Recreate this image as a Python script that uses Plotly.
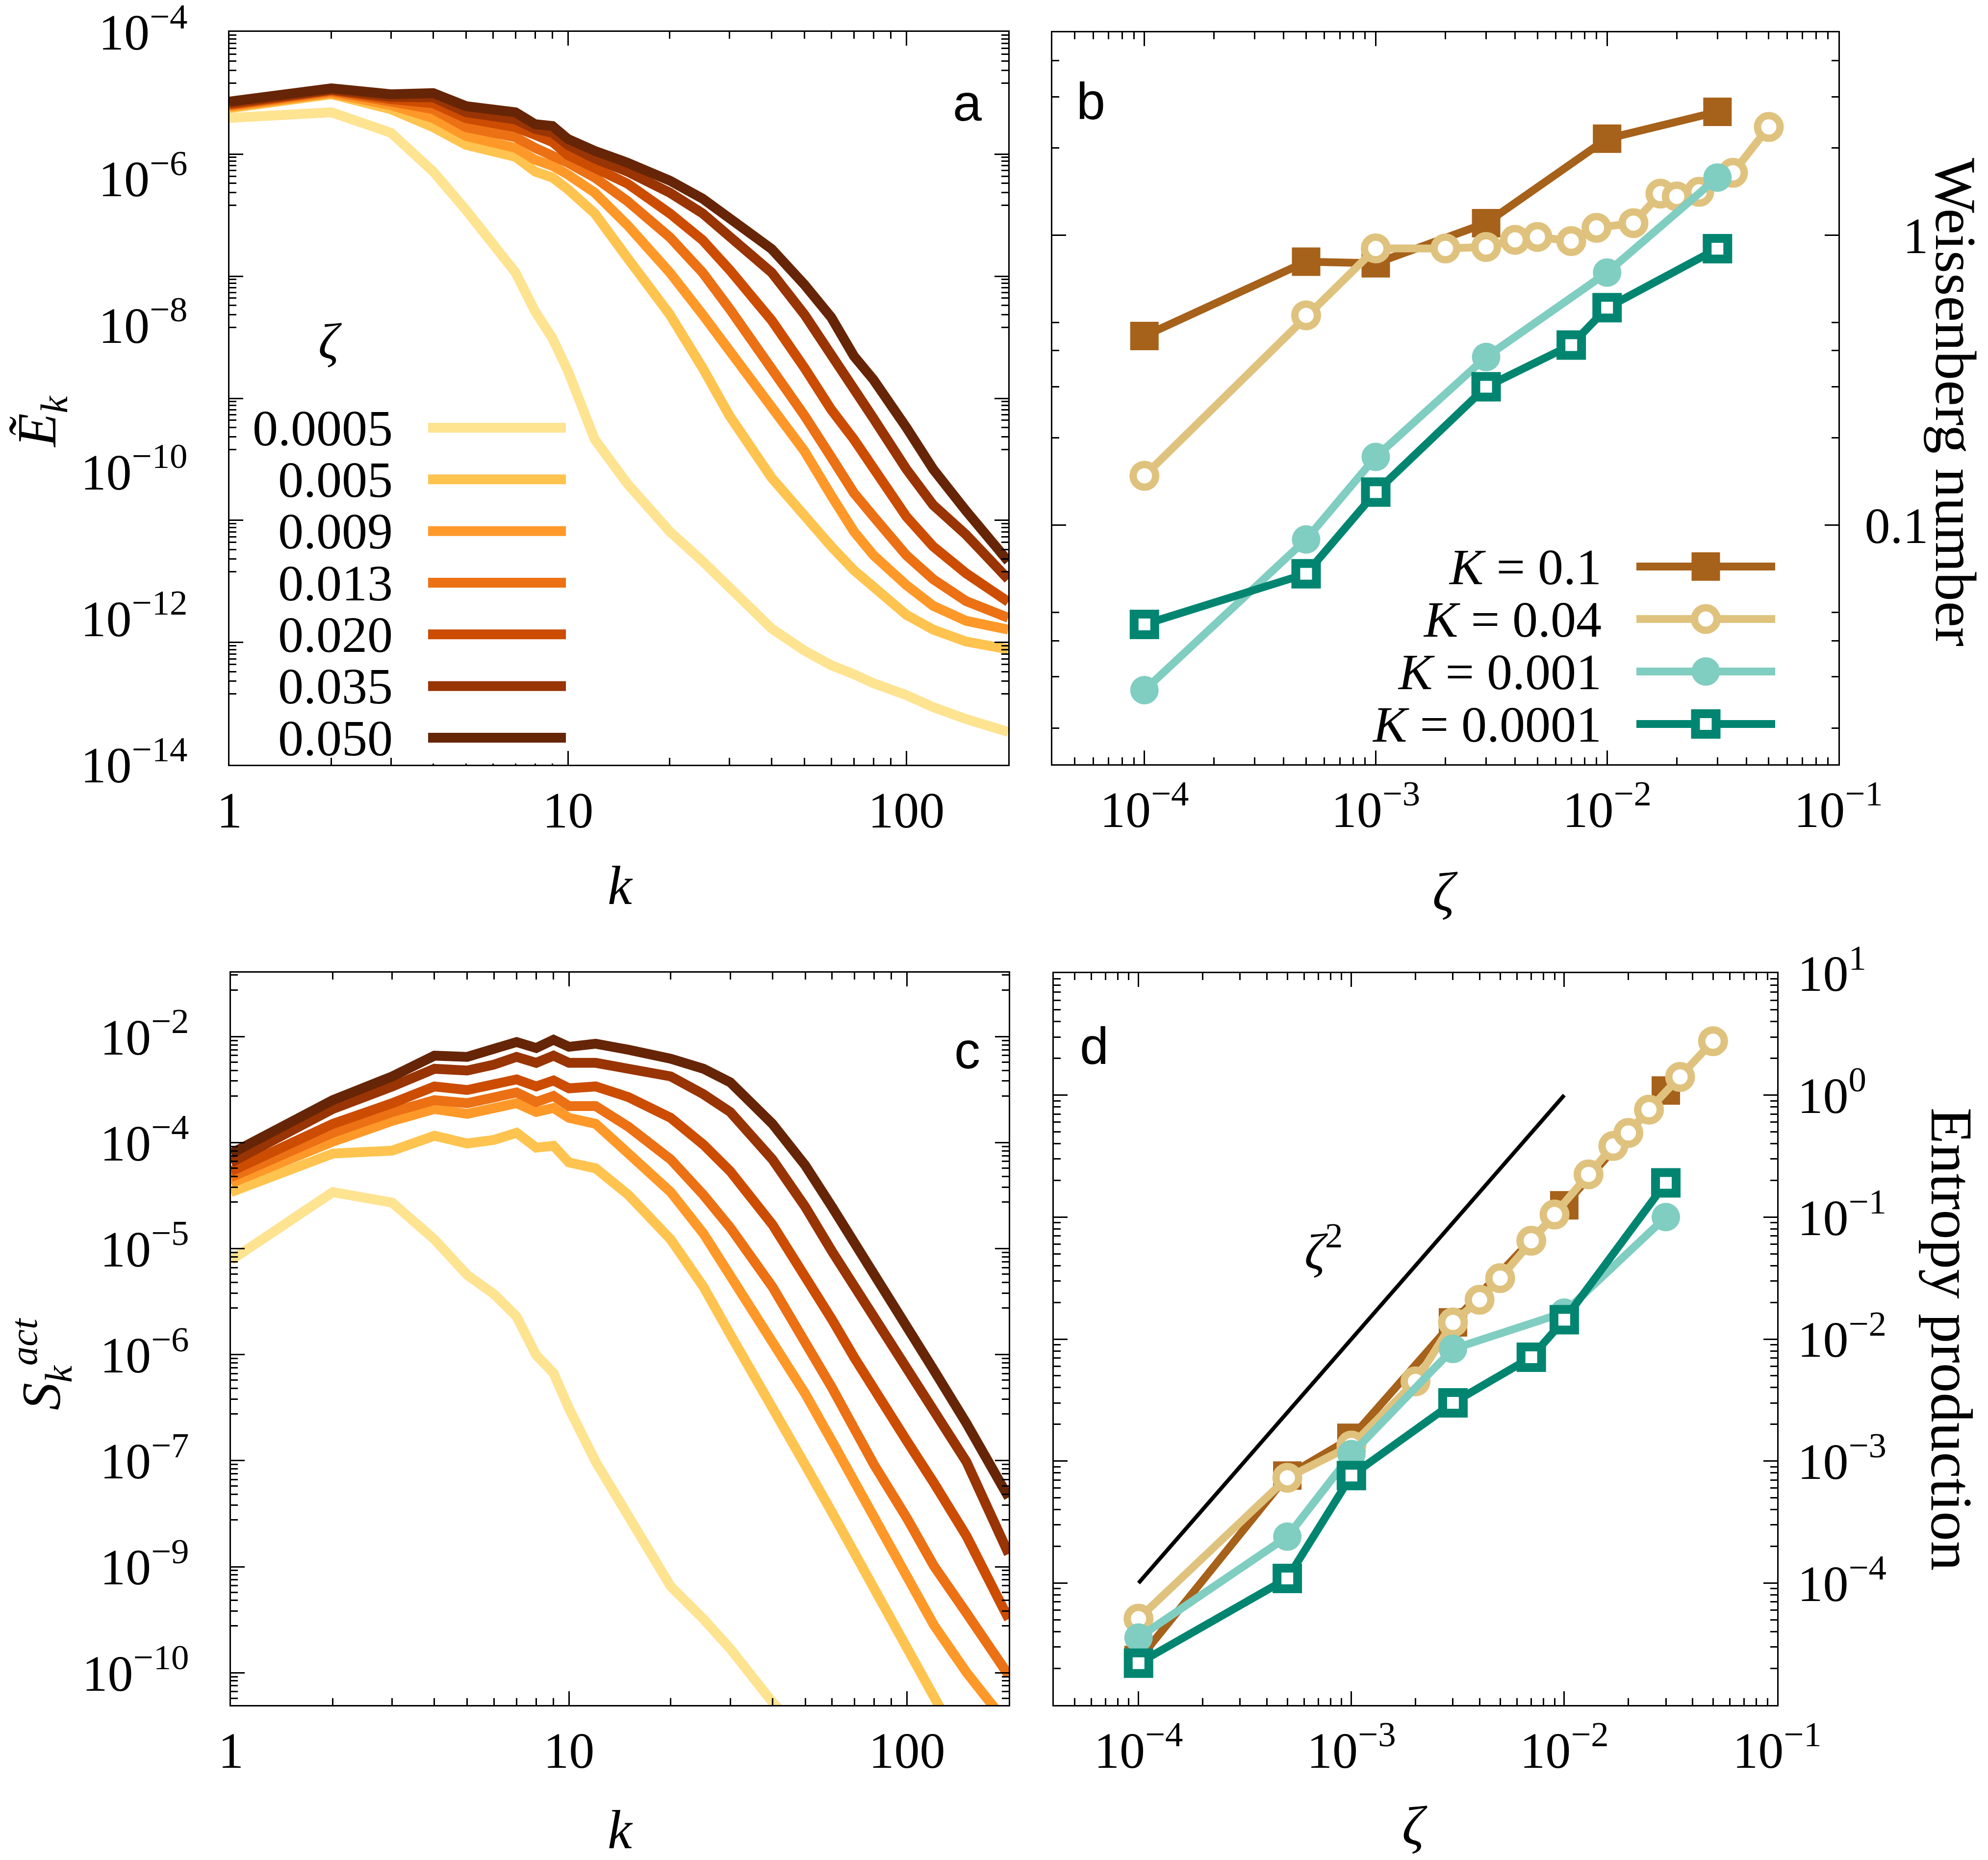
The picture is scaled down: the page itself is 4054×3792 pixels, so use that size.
import math
import plotly.graph_objects as go

# ---------------------------------------------------------------- data
K_MODES = [1, 2, 3, 4, 5, 6, 7, 8, 9, 10, 12, 15, 20, 25, 30, 40, 50, 60, 70, 80, 100, 120, 150, 200]
ZETA_LABELS = ["0.0005", "0.005", "0.009", "0.013", "0.020", "0.035", "0.050"]

# panel a : energy spectra E_k
E_0005 = [6.7e-6, 8.0e-6, 4.2e-6, 1.24e-6, 3.7e-7, 1.31e-7, 5.2e-8, 1.53e-8, 6.6e-9, 2.36e-9, 2.75e-10, 6.8e-11,
          1.52e-11, 5.97e-12, 2.58e-12, 7.2e-13, 3.6e-13, 2.27e-13, 1.71e-13, 1.29e-13, 8.9e-14, 6.1e-14, 4.2e-14, 2.8e-14]
E_005 = [9.1e-6, 1.41e-5, 8.8e-6, 5.0e-6, 2.87e-6, 2.38e-6, 1.97e-6, 1.24e-6, 1.03e-6, 7.1e-7, 3.34e-7, 8.2e-8,
         1.39e-8, 2.6e-9, 5.8e-10, 8.2e-11, 2.43e-11, 9.5e-12, 4.5e-12, 2.58e-12, 1.11e-12, 6.97e-13, 4.8e-13, 3.76e-13]
E_009 = [9.5e-6, 1.46e-5, 1.0e-5, 6.65e-6, 3.8e-6, 3.15e-6, 2.61e-6, 1.80e-6, 1.49e-6, 1.13e-6, 6.4e-7, 2.3e-7,
         5.2e-8, 1.39e-8, 4.5e-9, 7.7e-10, 1.9e-10, 4.7e-11, 1.52e-11, 7.2e-12, 2.82e-12, 1.47e-12, 9.2e-13, 6.97e-13]
E_013 = [9.9e-6, 1.54e-5, 1.12e-5, 8.8e-6, 5.0e-6, 4.2e-6, 3.66e-6, 2.61e-6, 2.09e-6, 1.64e-6, 1.03e-6, 4.9e-7,
         1.58e-7, 5.2e-8, 1.68e-8, 2.6e-9, 5.8e-10, 1.57e-10, 5.1e-11, 2.43e-11, 7.2e-12, 3.4e-12, 1.71e-12, 1.01e-12]
E_020 = [1.02e-5, 1.60e-5, 1.21e-5, 1.06e-5, 6.65e-6, 5.8e-6, 5.0e-6, 3.94e-6, 3.15e-6, 2.09e-6, 1.36e-6, 8.5e-7,
         3.34e-7, 1.44e-7, 5.7e-8, 1.16e-8, 2.6e-9, 7.0e-10, 2.75e-10, 1.08e-10, 2.43e-11, 9.5e-12, 4.1e-12, 1.67e-12]
E_035 = [1.06e-5, 1.63e-5, 1.30e-5, 1.28e-5, 8.0e-6, 7.0e-6, 6.4e-6, 4.75e-6, 4.2e-6, 2.87e-6, 1.87e-6, 1.24e-6,
         6.4e-7, 3.34e-7, 1.58e-7, 5.2e-8, 1.39e-8, 4.1e-9, 1.48e-9, 5.3e-10, 1.08e-10, 3.5e-11, 1.38e-11, 3.4e-12]
E_050 = [1.12e-5, 1.70e-5, 1.41e-5, 1.46e-5, 9.7e-6, 8.65e-6, 8.0e-6, 5.5e-6, 5.2e-6, 3.46e-6, 2.38e-6, 1.64e-6,
         9.35e-7, 5.3e-7, 2.88e-7, 1.09e-7, 3.55e-8, 1.27e-8, 3.77e-9, 1.79e-9, 4.0e-10, 1.08e-10, 2.92e-11, 5.97e-12]
E_SPECTRA = [E_0005, E_005, E_009, E_013, E_020, E_035, E_050]

# panel c : active entropy-production spectra S_k^act
S_0005 = [2.91e-5, 1.85e-4, 1.39e-4, 5.11e-5, 1.95e-5, 1.16e-5, 6.30e-6, 2.21e-6, 1.36e-6, 5.19e-7, 1.22e-7, 2.86e-8,
          4.14e-9, 1.71e-9, 7.64e-10, 1.79e-10, 6.8e-11]
S_005 = [1.85e-4, 5.27e-4, 5.71e-4, 8.55e-4, 6.93e-4, 7.64e-4, 9.27e-4, 6.19e-4, 6.50e-4, 4.14e-4, 3.53e-4, 1.71e-4,
         5.11e-5, 1.41e-5, 3.89e-6, 5.62e-7, 1.12e-7, 3.10e-8, 1.00e-8, 3.83e-9, 7.64e-10, 1.95e-10, 4.2e-11]
S_009 = [2.36e-4, 7.28e-4, 1.28e-3, 1.77e-3, 1.55e-3, 1.77e-3, 2.07e-3, 1.63e-3, 1.82e-3, 1.39e-3, 1.18e-3, 5.27e-4,
         1.85e-4, 6.00e-5, 1.95e-5, 3.31e-6, 7.76e-7, 2.14e-7, 6.93e-8, 2.64e-8, 5.27e-9, 1.46e-9, 4.01e-10, 9.42e-11]
S_013 = [2.77e-4, 9.27e-4, 1.63e-3, 2.25e-3, 2.07e-3, 2.36e-3, 2.77e-3, 2.14e-3, 2.52e-3, 1.91e-3, 1.91e-3, 1.09e-3,
         4.49e-4, 1.71e-4, 7.05e-5, 1.41e-5, 3.31e-6, 9.12e-7, 2.96e-7, 1.12e-7, 2.64e-8, 7.28e-9, 2.01e-9, 3.71e-10]
S_020 = [3.26e-4, 1.18e-3, 2.07e-3, 3.26e-3, 2.96e-3, 3.37e-3, 3.95e-3, 3.26e-3, 3.83e-3, 3.10e-3, 3.26e-3, 2.44e-3,
         1.39e-3, 6.71e-4, 3.26e-4, 7.64e-5, 1.95e-5, 5.81e-6, 2.04e-6, 8.41e-7, 2.14e-7, 6.93e-8, 1.63e-8, 1.71e-9]
S_035 = [4.14e-4, 1.77e-3, 3.26e-3, 5.27e-3, 5.02e-3, 5.90e-3, 7.28e-3, 6.19e-3, 7.52e-3, 6.19e-3, 6.19e-3, 5.27e-3,
         4.28e-3, 2.64e-3, 1.63e-3, 4.49e-4, 1.24e-4, 3.71e-5, 1.41e-5, 6.30e-6, 1.60e-6, 4.79e-7, 1.22e-7, 1.00e-8]
S_050 = [5.27e-4, 2.25e-3, 4.28e-3, 7.52e-3, 7.28e-3, 8.83e-3, 1.09e-2, 9.27e-3, 1.16e-2, 9.57e-3, 1.04e-2, 8.83e-3,
         6.93e-3, 5.27e-3, 3.65e-3, 1.18e-3, 3.83e-4, 1.24e-4, 4.71e-5, 1.95e-5, 4.94e-6, 1.48e-6, 3.47e-7, 4.64e-8]
S_SPECTRA = [S_0005, S_005, S_009, S_013, S_020, S_035, S_050]

# panels b, d : Weissenberg number and entropy production vs zeta
K_LABELS = ["0.1", "0.04", "0.001", "0.0001"]
ZETA_K01 = [1e-4, 5e-4, 1e-3, 3e-3, 1e-2, 3e-2]
ZETA_K004 = [1e-4, 5e-4, 1e-3, 2e-3, 3e-3, 4e-3, 5e-3, 7e-3, 9e-3, 0.013, 0.017, 0.020, 0.025, 0.035, 0.050]
ZETA_K0001 = [1e-4, 5e-4, 1e-3, 3e-3, 1e-2, 3e-2]
ZETA_K00001 = [1e-4, 5e-4, 1e-3, 3e-3, 7e-3, 1e-2, 3e-2]

WI_K01 = [0.449, 0.81, 0.80, 1.10, 2.15, 2.66]
WI_K004 = [0.148, 0.529, 0.90, 0.90, 0.91, 0.963, 0.986, 0.954, 1.06, 1.10, 1.39, 1.36, 1.41, 1.64, 2.36]
WI_K0001 = [0.027, 0.0893, 0.172, 0.38, 0.743, 1.58]
WI_K00001 = [0.0455, 0.068, 0.13, 0.30, 0.418, 0.562, 0.898]

EP_K01 = [2.34e-5, 7.6e-4, 1.55e-3, 1.37e-2, 0.125, 1.09]
EP_K004 = [5.1e-5, 7.3e-4, 1.34e-3, 4.5e-3, 1.37e-2, 0.021, 0.0316, 0.064, 0.105, 0.224, 0.383, 0.49, 0.76, 1.41, 2.77]
EP_K0001 = [3.57e-5, 2.4e-4, 1.14e-3, 8.3e-3, 0.0165, 0.100]
EP_K00001 = [2.2e-5, 1.09e-4, 7.6e-4, 3.0e-3, 7.1e-3, 0.0144, 0.191]

ZETA_REF = [1e-4, 1e-2]          # zeta^2 guide line
EP_REF = [1e-4, 1.0]

# tick labels
A_Y_TICKVALS = [1e-4, 1e-6, 1e-8, 1e-10, 1e-12, 1e-14]
A_Y_TICKTEXT = ["10<sup>−4</sup>", "10<sup>−6</sup>", "10<sup>−8</sup>", "10<sup>−10</sup>", "10<sup>−12</sup>", "10<sup>−14</sup>"]
C_Y_TICKTEXT = ["10<sup>−2</sup>", "10<sup>−4</sup>", "10<sup>−5</sup>", "10<sup>−6</sup>", "10<sup>−7</sup>", "10<sup>−9</sup>", "10<sup>−10</sup>"]
K_TICKVALS = [1, 10, 100]
K_TICKTEXT = ["1", "10", "100"]
Z_TICKVALS = [1e-4, 1e-3, 1e-2, 1e-1]
Z_TICKTEXT = ["10<sup>−4</sup>", "10<sup>−3</sup>", "10<sup>−2</sup>", "10<sup>−1</sup>"]
WI_TICKVALS = [0.1, 1]
WI_TICKTEXT = ["0.1", "\u2007\u20081"]
EP_TICKVALS = [1e-4, 1e-3, 1e-2, 1e-1, 1, 10]
EP_TICKTEXT = ["10<sup>−4</sup>", "10<sup>−3</sup>", "10<sup>−2</sup>", "10<sup>−1</sup>", "10<sup>0</sup>", "10<sup>1</sup>"]

# ---------------------------------------------------------------- style
SPEC_COLORS = ["#fee391", "#fec44f", "#fe9929", "#ec7014", "#cc4c02", "#993404", "#662506"]
K_COLORS = ["#a6611a", "#dfc27d", "#80cdc1", "#018571"]
SERIF = "Liberation Serif"
SANS = "Liberation Sans"
LW = 2.5
TICKFONT = 104

W, H = 4054, 3792


def fx(px):
    return px / W


def fy(py):
    return 1 - py / H


A_BOX = (468, 2056, 65, 1559)    # left, right, top, bottom (pixels)
B_BOX = (2146, 3749, 66, 1558)
C_BOX = (471, 2057, 1983, 3476)
D_BOX = (2149, 3624, 1984, 3476)


def xdom(b):
    return [fx(b[0]), fx(b[1])]


def ydom(b):
    return [fy(b[3]), fy(b[2])]


def axis(**kw):
    d = dict(type="log", showline=True, linecolor="black", linewidth=LW, mirror="ticks",
             ticks="inside", ticklen=28, tickwidth=LW, tickcolor="black", automargin=False,
             showgrid=False, zeroline=False, tickmode="array", ticklabeloverflow="allow",
             tickfont=dict(family=SERIF, size=TICKFONT, color="black"))
    d.update(kw)
    return d


def minor(vals):
    return dict(tickmode="array", tickvals=vals, ticks="inside", ticklen=14,
                tickwidth=LW, tickcolor="black", showgrid=False)


def decade_minor(e0, e1, mults, lo, hi):
    out = []
    for e in range(e0, e1):
        for m in mults:
            v = m * 10.0 ** e
            if lo < v < hi:
                out.append(v)
    return out


def shifted_minor(major_logs, lo_log, hi_log):
    out = []
    for L in major_logs:
        for j in range(2, 10):
            v = L - 1 + math.log10(j)
            if lo_log < v < hi_log:
                out.append(10 ** v)
    return out


K_RANGE = [0, math.log10(200)]
Z_RANGE = [math.log10(4e-5), -1]
K_MINOR = decade_minor(0, 3, range(2, 10), 1, 200)
Z_MINOR = decade_minor(-5, -1, range(2, 10), 4e-5, 0.1)
WI_MINOR = decade_minor(-2, 1, [2, 3, 4, 5], 0.015, 5)
EP_MINOR = decade_minor(-5, 1, range(2, 10), 1e-5, 10)

A_RANGE = [-14.0004, -3.9996]
A_MARK_LOGS = [-4 - i * 10 / 6 for i in range(7)]
C_RANGE = [-9.781, -1.145]
C_MAJOR_LOGS = [-1.9 - 1.25 * i for i in range(7)]

# ---------------------------------------------------------------- traces
fig = go.Figure()

for lab, col, vals in zip(ZETA_LABELS, SPEC_COLORS, E_SPECTRA):
    fig.add_trace(go.Scatter(x=K_MODES[:len(vals)], y=vals, mode="lines", name="ζ = " + lab,
                             line=dict(color=col, width=20), xaxis="x", yaxis="y"))
# carrier for the tick-mark axis of panel a
fig.add_trace(go.Scatter(x=K_MODES[:1], y=E_050[:1], mode="markers", marker=dict(size=1, opacity=0),
                         xaxis="x", yaxis="y5", hoverinfo="skip", showlegend=False))

for lab, col, vals in zip(ZETA_LABELS, SPEC_COLORS, S_SPECTRA):
    fig.add_trace(go.Scatter(x=K_MODES[:len(vals)], y=vals, mode="lines", name="ζ = " + lab,
                             line=dict(color=col, width=20), xaxis="x3", yaxis="y3"))

MARKERS = [
    dict(symbol="square", size=58, color=K_COLORS[0], line=dict(width=0)),
    dict(symbol="circle", size=46, color="white", line=dict(color=K_COLORS[1], width=15)),
    dict(symbol="circle", size=58, color=K_COLORS[2], line=dict(width=0)),
    dict(symbol="square", size=42, color="white", line=dict(color=K_COLORS[3], width=18)),
]
B_SERIES = [(ZETA_K01, WI_K01), (ZETA_K004, WI_K004), (ZETA_K0001, WI_K0001), (ZETA_K00001, WI_K00001)]
D_SERIES = [(ZETA_K01, EP_K01), (ZETA_K004, EP_K004), (ZETA_K0001, EP_K0001), (ZETA_K00001, EP_K00001)]

for lab, col, mk, (zx, wy) in zip(K_LABELS, K_COLORS, MARKERS, B_SERIES):
    fig.add_trace(go.Scatter(x=zx, y=wy, mode="lines+markers", name="K = " + lab,
                             line=dict(color=col, width=16), marker=mk, xaxis="x2", yaxis="y2"))

fig.add_trace(go.Scatter(x=ZETA_REF, y=EP_REF, mode="lines", name="ζ²",
                         line=dict(color="black", width=8), xaxis="x4", yaxis="y4"))
for lab, col, mk, (zx, ey) in zip(K_LABELS, K_COLORS, MARKERS, D_SERIES):
    fig.add_trace(go.Scatter(x=zx, y=ey, mode="lines+markers", name="K = " + lab,
                             line=dict(color=col, width=16), marker=mk, xaxis="x4", yaxis="y4"))

# legend keys (drawn in small helper axes, one row per series)
LEGEND_KEY_X = [0, 1]
LEGEND_KEY_MID = [0.5]
for i, col in enumerate(SPEC_COLORS):
    fig.add_trace(go.Scatter(x=LEGEND_KEY_X, y=[i, i], mode="lines", line=dict(color=col, width=20),
                             xaxis="x6", yaxis="y6", hoverinfo="skip", showlegend=False))
for i, (col, mk) in enumerate(zip(K_COLORS, MARKERS)):
    fig.add_trace(go.Scatter(x=LEGEND_KEY_X, y=[i, i], mode="lines", line=dict(color=col, width=16),
                             xaxis="x7", yaxis="y7", hoverinfo="skip", showlegend=False))
    fig.add_trace(go.Scatter(x=LEGEND_KEY_MID, y=[i], mode="markers", marker=mk, cliponaxis=False,
                             xaxis="x7", yaxis="y7", hoverinfo="skip", showlegend=False))

# ---------------------------------------------------------------- axes
LEG_A = (873, 1154, 872, 1504)   # key x0, x1, first row y, last row y
LEG_B = (3337, 3620, 1155, 1476)


def legend_domains(box, n):
    step = (box[3] - box[2]) / (n - 1)
    return [fx(box[0]), fx(box[1])], [fy(box[3] + step / 2), fy(box[2] - step / 2)]


la_x, la_y = legend_domains(LEG_A, 7)
lb_x, lb_y = legend_domains(LEG_B, 4)

HIDDEN = dict(visible=False, automargin=False, showgrid=False, zeroline=False)

fig.update_layout(
    template="none",
    width=W, height=H, margin=dict(l=0, r=0, t=0, b=0, pad=0, autoexpand=False),
    paper_bgcolor="white", plot_bgcolor="white", showlegend=False, hovermode=False,
    font=dict(family=SERIF, size=104, color="black"),
    xaxis=axis(domain=xdom(A_BOX), anchor="y", range=K_RANGE, tickvals=K_TICKVALS, ticktext=K_TICKTEXT,
               minor=minor(K_MINOR), ticklabelstandoff=0),
    yaxis=axis(domain=ydom(A_BOX), anchor="x", range=A_RANGE, tickvals=A_Y_TICKVALS, ticktext=A_Y_TICKTEXT,
               ticks="", mirror=True, ticklabelstandoff=62),
    yaxis5=dict(type="log", overlaying="y", anchor="x", side="left", range=A_RANGE, tickmode="array",
                tickvals=[10 ** L for L in A_MARK_LOGS], showticklabels=False, showline=False,
                automargin=False, showgrid=False, zeroline=False, ticks="inside", ticklen=28, tickwidth=LW,
                tickcolor="black", mirror="ticks",
                minor=minor(shifted_minor(A_MARK_LOGS, A_RANGE[0], A_RANGE[1]))),
    xaxis2=axis(domain=xdom(B_BOX), anchor="y2", range=Z_RANGE, tickvals=Z_TICKVALS, ticktext=Z_TICKTEXT,
                minor=minor(Z_MINOR), ticklabelstandoff=0),
    yaxis2=axis(domain=ydom(B_BOX), anchor="x2", side="right", range=[math.log10(0.015), math.log10(5)],
                tickvals=WI_TICKVALS, ticktext=WI_TICKTEXT, minor=minor(WI_MINOR), ticklabelstandoff=30),
    xaxis3=axis(domain=xdom(C_BOX), anchor="y3", range=K_RANGE, tickvals=K_TICKVALS, ticktext=K_TICKTEXT,
                minor=minor(K_MINOR), ticklabelstandoff=0),
    yaxis3=axis(domain=ydom(C_BOX), anchor="x3", range=C_RANGE, tickvals=[10 ** L for L in C_MAJOR_LOGS],
                ticktext=C_Y_TICKTEXT, ticklabelstandoff=62,
                minor=minor(shifted_minor([C_MAJOR_LOGS[0] + 1.25] + C_MAJOR_LOGS, C_RANGE[0], C_RANGE[1]))),
    xaxis4=axis(domain=xdom(D_BOX), anchor="y4", range=Z_RANGE, tickvals=Z_TICKVALS, ticktext=Z_TICKTEXT,
                minor=minor(Z_MINOR), ticklabelstandoff=0),
    yaxis4=axis(domain=ydom(D_BOX), anchor="x4", side="right", range=[-5, 1],
                tickvals=EP_TICKVALS, ticktext=EP_TICKTEXT, minor=minor(EP_MINOR), ticklabelstandoff=18),
    xaxis6=dict(domain=la_x, anchor="y6", range=[0, 1], **HIDDEN),
    yaxis6=dict(domain=la_y, anchor="x6", range=[6.5, -0.5], **HIDDEN),
    xaxis7=dict(domain=lb_x, anchor="y7", range=[0, 1], **HIDDEN),
    yaxis7=dict(domain=lb_y, anchor="x7", range=[3.5, -0.5], **HIDDEN),
)

# ---------------------------------------------------------------- text
ann = []


def text(t, xp, yp, size=104, family=SERIF, angle=0, xanchor="center", yanchor="middle"):
    ann.append(dict(text=t, x=fx(xp), y=fy(yp), xref="paper", yref="paper",
                    showarrow=False, textangle=angle, xanchor=xanchor, yanchor=yanchor,
                    font=dict(family=family, size=size, color="black")))


# panel letters
text("a", 1972, 209, size=106, family=SANS)
text("b", 2224, 206, size=106, family=SANS)
text("c", 1972, 2141, size=106, family=SANS)
text("d", 2231, 2132, size=106, family=SANS)
# axis titles
text("<i>Ẽ</i><sub><i>k</i></sub>", 84, 860, size=112, angle=-90)
text("<i>k</i>", 1265, 1805, size=112)
text("<i>ζ</i>", 2947, 1818, size=112)
text("Weissenberg number", 3988, 820, size=119, angle=90)
text("<i>S</i><sub><i>k</i></sub><sup><i>act</i></sup>", 84, 2781, size=112, angle=-90)
text("<i>k</i>", 1265, 3730, size=112)
text("<i>ζ</i>", 2885, 3722, size=112)
text("Entropy production", 3980, 2730, size=121, angle=90)
# legend of panel a
text("<i>ζ</i>", 673, 695, size=104)
for i, lab in enumerate(ZETA_LABELS):
    ann.append(dict(text=lab, x=fx(803), y=i, xref="paper", yref="y6", showarrow=False,
                    xanchor="right", yanchor="middle", font=dict(family=SERIF, size=104, color="black")))
# legend of panel b
for i, lab in enumerate(K_LABELS):
    ann.append(dict(text="<i>K</i> = " + lab, x=fx(3268), y=i, xref="paper", yref="y7", showarrow=False,
                    xanchor="right", yanchor="middle", font=dict(family=SERIF, size=104, color="black")))
# zeta^2 label in panel d (log-axis coordinates)
ann.append(dict(text="<i>ζ</i><sup>2</sup>", x=-3.13, y=-1.25, xref="x4", yref="y4", showarrow=False,
                xanchor="center", yanchor="middle", font=dict(family=SERIF, size=104, color="black")))

fig.update_layout(annotations=ann)

fig.write_html("out.html", config={"displayModeBar": False, "responsive": False},
               post_script="document.body.style.margin='0px';")
